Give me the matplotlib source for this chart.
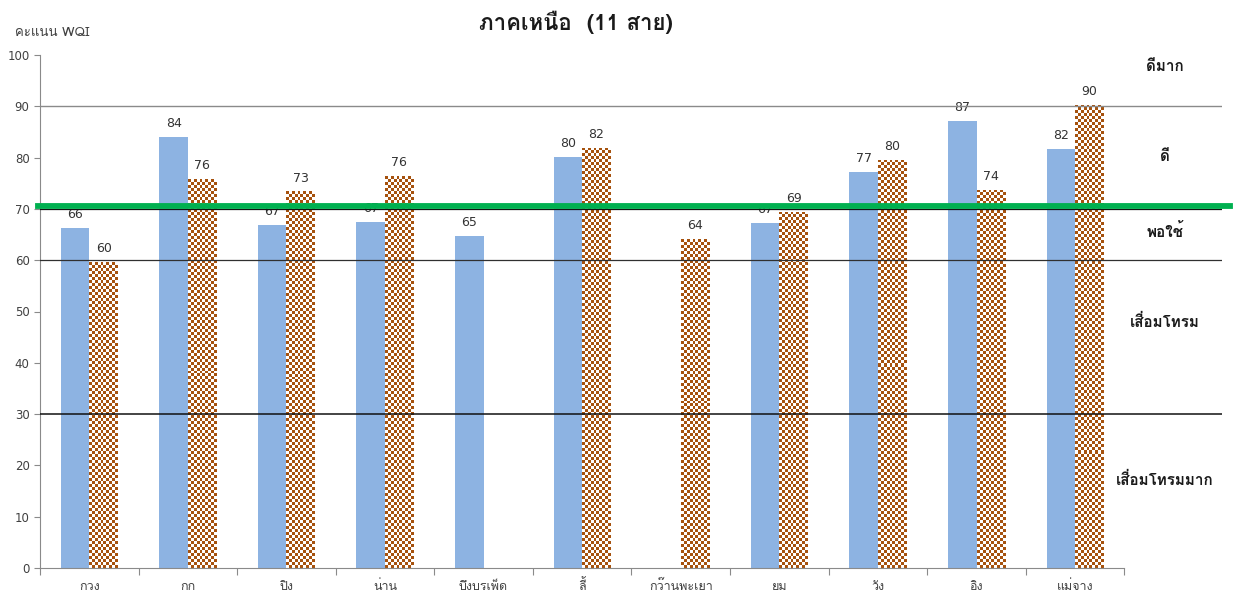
import numpy as np
import matplotlib
matplotlib.use("Agg")
import matplotlib.pyplot as plt
from matplotlib import font_manager
from matplotlib.ft2font import FT2Font

rivers = ['กวง', 'กก', 'ปิง', 'น่าน', 'บึงบรเพ็ด', 'ลี้', 'กว๊านพะเยา',
          'ยม', 'วัง', 'อิง', 'แม่จาง']
score_a = [66.3, 84.0, 66.9, 67.4, 64.7, 80.1, np.nan, 67.3, 77.2, 87.1, 81.7]
score_b = [59.6, 75.8, 73.4, 76.4, np.nan, 81.9, 64.1, 69.4, 79.6, 73.7, 90.3]

# quality classes on the right, with the height where each name sits
class_names = ['ดีมาก', 'ดี', 'พอใช้', 'เสื่อมโทรม', 'เสื่อมโทรมมาก']
class_pos = [97.7, 80.1, 65.5, 48.0, 17.2]
class_edges = [90, 60, 30]
target = 70.6


def thai_family():
    # first installed font that has Thai glyphs
    for f in font_manager.fontManager.ttflist:
        try:
            if 0x0E01 in FT2Font(f.fname).get_charmap():
                return f.name
        except Exception:
            pass
    return 'DejaVu Sans'


thai = thai_family()
plt.rcParams['font.family'] = [thai, 'DejaVu Sans']

fig = plt.figure(figsize=(12.41, 5.99), dpi=100)
ax = fig.add_axes([40 / 1241, 31 / 599, 1182 / 1241, 513 / 599])

x = np.arange(len(rivers))
w = 0.29
blue = '#8DB3E2'
brown = '#A6520E'

bars_a = ax.bar(x - w / 2, score_a, w, color=blue, zorder=2)
bars_b = ax.bar(x + w / 2, score_b, w, color=brown, zorder=2)

ax.set_xlim(-0.5, 11.49)
ax.set_ylim(0, 100)

# checkerboard fill for the second series, ~3 px squares
px_x = ax.transData.transform((1, 0))[0] - ax.transData.transform((0, 0))[0]
px_y = ax.transData.transform((0, 1))[1] - ax.transData.transform((0, 0))[1]
for b in bars_b:
    h = b.get_height()
    if np.isnan(h):
        continue
    nx = max(1, int(round(b.get_width() * px_x / 3)))
    ny = max(1, int(round(h * px_y / 3)))
    board = (np.add.outer(np.arange(ny), np.arange(nx)) % 2).astype(float)
    img = ax.imshow(board, cmap=matplotlib.colors.ListedColormap([brown, 'white']),
                    extent=(b.get_x(), b.get_x() + b.get_width(), 0, h),
                    interpolation='nearest', aspect='auto', zorder=2.5)
    img.set_clip_path(b)

for bars in (bars_a, bars_b):
    for b in bars:
        h = b.get_height()
        if np.isnan(h):
            continue
        ax.annotate(f"{h:.0f}", (b.get_x() + b.get_width() / 2, h),
                    xytext=(0, 5), textcoords='offset points',
                    ha='center', va='bottom', fontsize=9, color='#333333',
                    family='DejaVu Sans', zorder=3)

ax.axhline(90, color='#8A8A8A', lw=1.0, zorder=4)
ax.axhline(60, color='#303030', lw=0.9, zorder=4)
ax.axhline(30, color='#111111', lw=1.1, zorder=4)
ax.axhline(70, color='#111111', lw=0.9, zorder=4)
ax.axhline(target, xmin=-0.002, xmax=1.007, color='#00B050', lw=4.2,
           zorder=5, clip_on=False)

for name, y in zip(class_names, class_pos):
    ax.text(10.91, y, name, ha='center', va='center', fontsize=11,
            fontweight='bold', color='#1A1A1A')

for s in ('top', 'right'):
    ax.spines[s].set_visible(False)
ax.spines['left'].set_color('#8A8A8A')
ax.spines['bottom'].set_color('#8A8A8A')
ax.spines['bottom'].set_bounds(-0.5, 10.5)

ax.set_yticks(np.arange(0, 101, 10))
ax.tick_params(axis='y', length=4, color='#8A8A8A', labelsize=8.5,
               labelcolor='#404040')
for t in ax.get_yticklabels():
    t.set_family('DejaVu Sans')

ax.set_xticks(np.arange(-0.5, 11, 1))
ax.set_xticklabels([])
ax.tick_params(axis='x', which='major', length=5, color='#8A8A8A')
ax.set_xticks(x, minor=True)
ax.set_xticklabels(rivers, minor=True)
ax.tick_params(axis='x', which='minor', length=0, pad=16, labelsize=9,
               labelcolor='#404040')
# keep Thai labels on one baseline whatever marks sit above them
for t in ax.get_xticklabels(minor=True):
    t.set_verticalalignment('baseline')

fig.text(15 / 1241, 1 - 33 / 599, 'คะแนน WQI', ha='left', va='center',
         fontsize=9.5, color='#404040')
fig.text(576 / 1241, 1 - 22 / 599, 'ภาคเหนือ  (11 สาย)', ha='center',
         va='center', fontsize=16, fontweight='bold', color='#1A1A1A')

fig.savefig('out.png', dpi=100)
